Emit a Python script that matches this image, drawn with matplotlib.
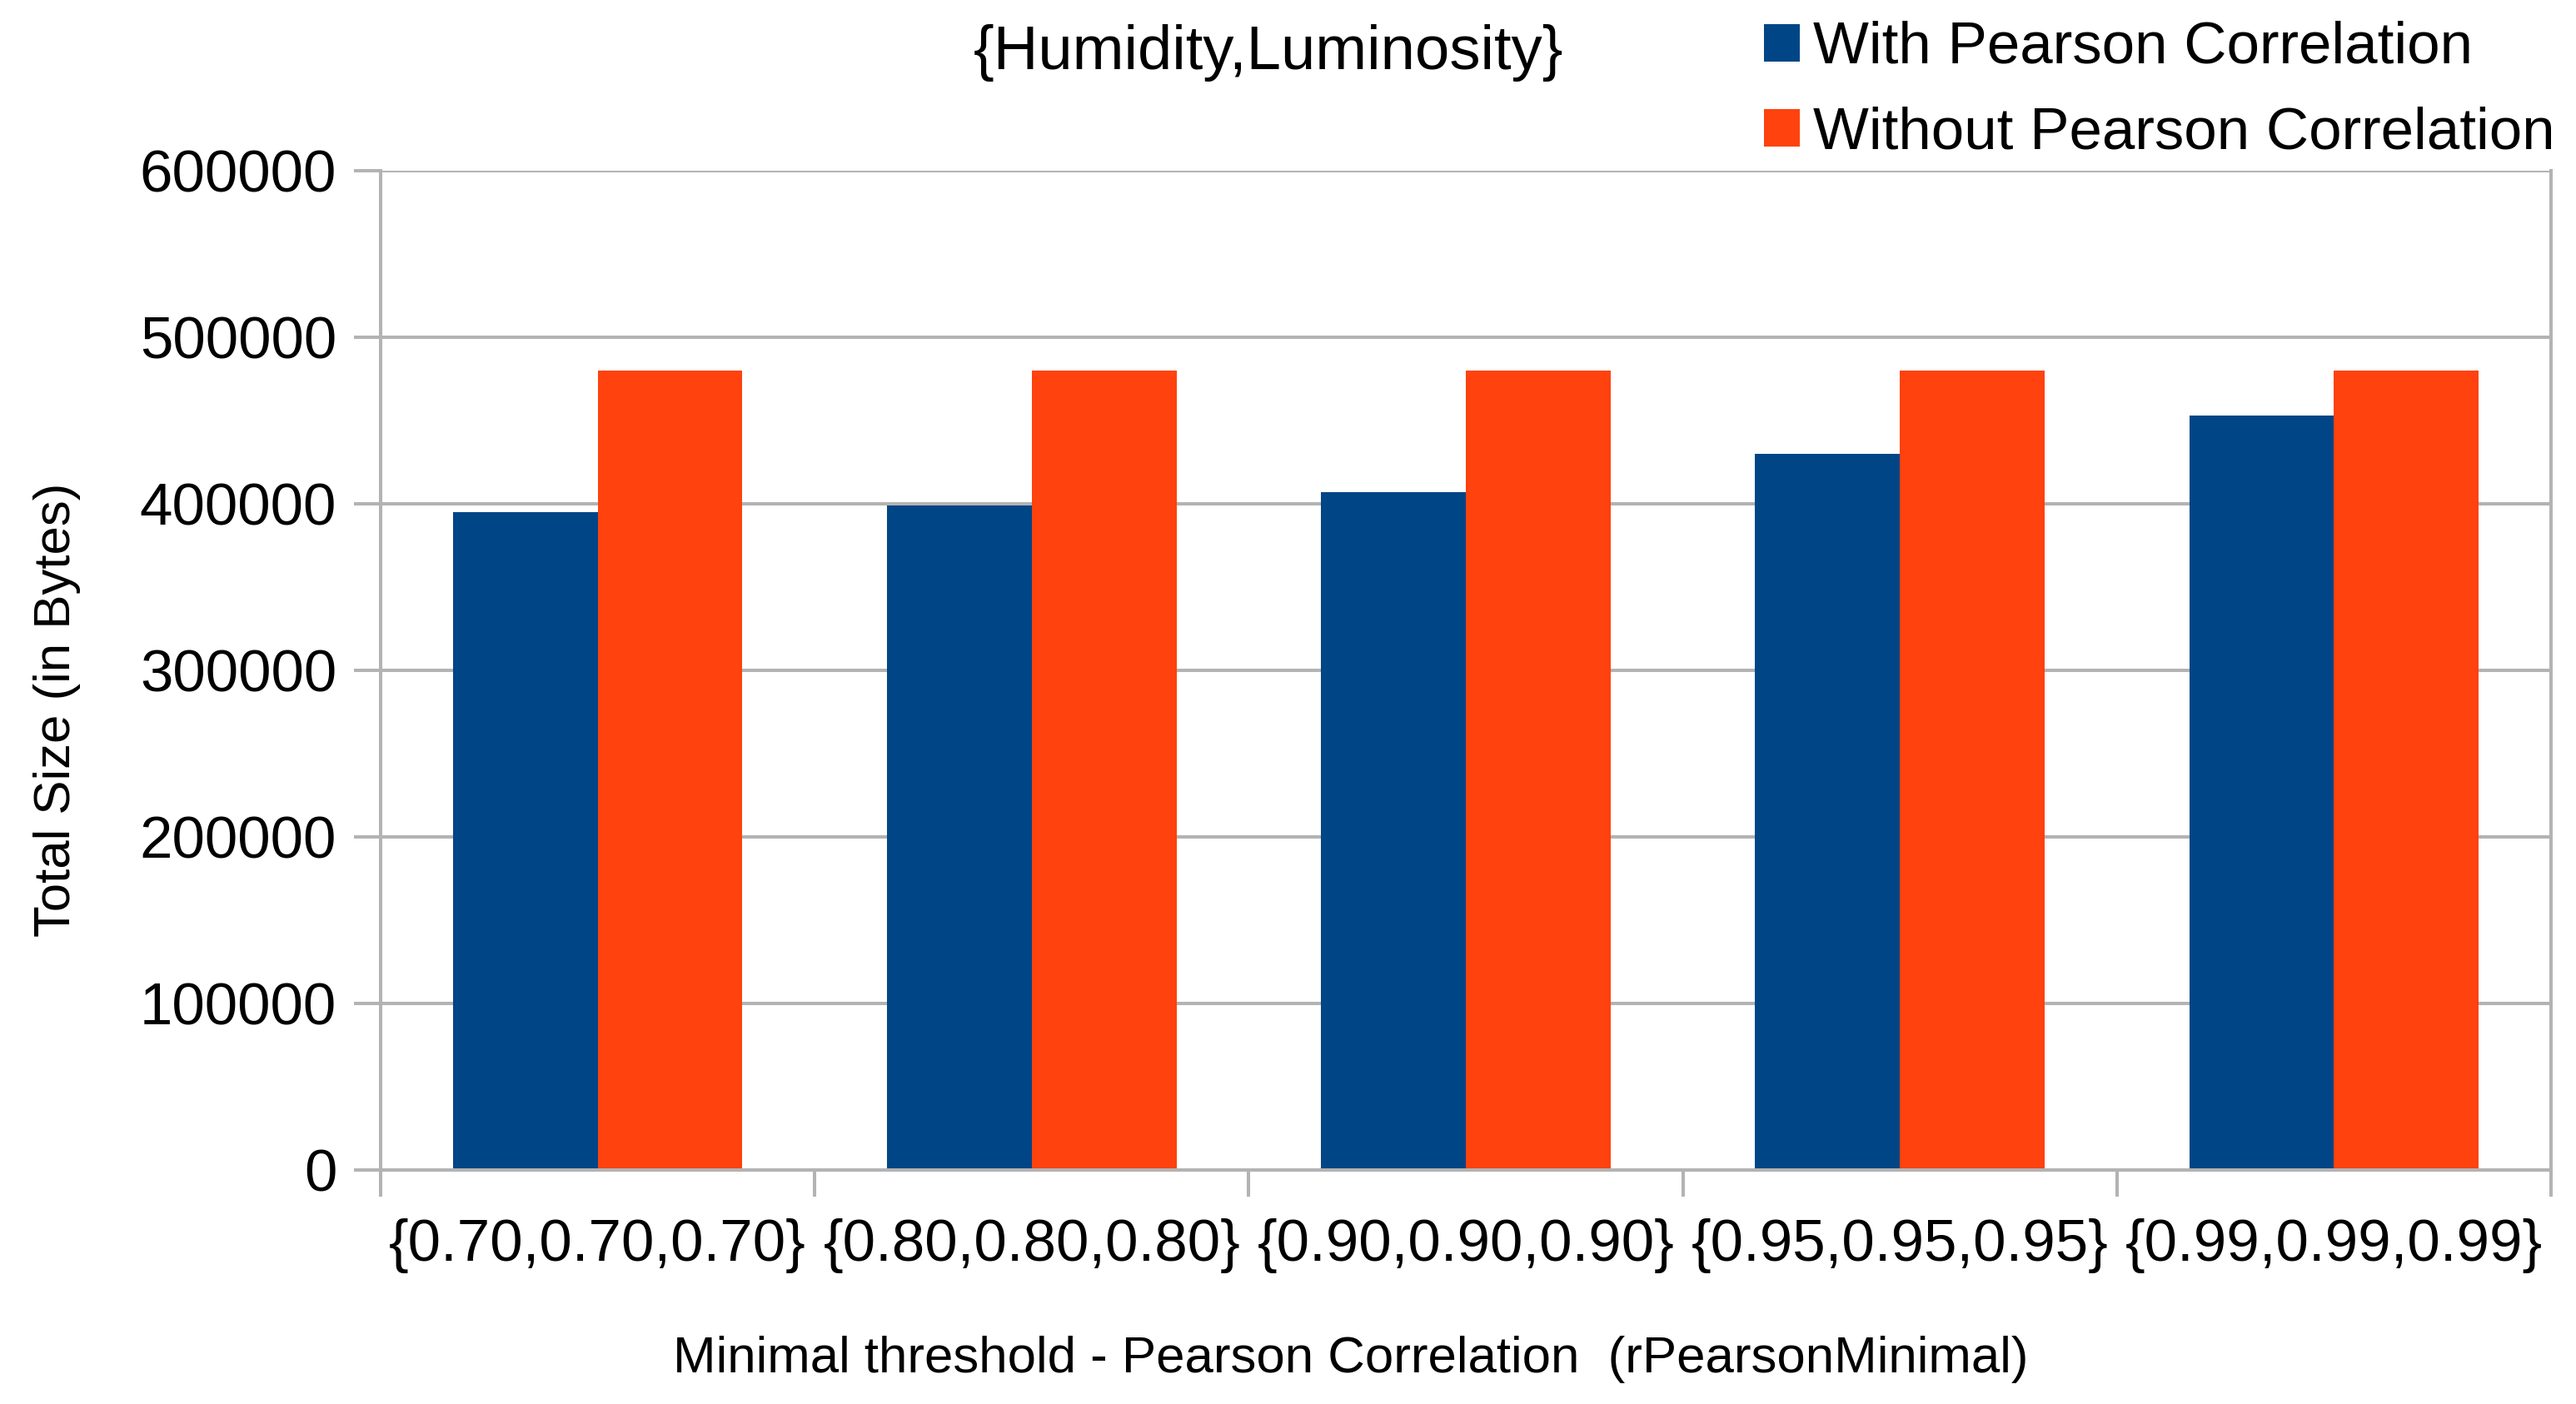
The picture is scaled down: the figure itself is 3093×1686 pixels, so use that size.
import matplotlib
matplotlib.use("Agg")
import matplotlib.pyplot as plt
from matplotlib.patches import Patch
import numpy as np

categories = ["{0.70,0.70,0.70}", "{0.80,0.80,0.80}", "{0.90,0.90,0.90}",
              "{0.95,0.95,0.95}", "{0.99,0.99,0.99}"]
with_pearson = [395000, 399000, 407000, 430000, 453000]
without_pearson = [480000, 480000, 480000, 480000, 480000]
series_names = ["With Pearson Correlation", "Without Pearson Correlation"]
yticks = [0, 100000, 200000, 300000, 400000, 500000, 600000]
title = "{Humidity,Luminosity}"
xlabel = "Minimal threshold - Pearson Correlation  (rPearsonMinimal)"
ylabel = "Total Size (in Bytes)"

BLUE = "#004586"
ORANGE = "#ff420e"
GRAY = "#b3b3b3"

plt.rcParams['font.family'] = ['Liberation Sans', 'DejaVu Sans']

W, H = 3093, 1686
fig = plt.figure(figsize=(W / 100, H / 100), dpi=100)
ax = fig.add_axes([457 / W, 1 - 1405 / H, (3063 - 457) / W, 1200 / H])

x = np.arange(len(categories))
bw = 1 / 3
ax.bar(x - bw / 2, with_pearson, width=bw, color=BLUE, linewidth=0, zorder=2)
ax.bar(x + bw / 2, without_pearson, width=bw, color=ORANGE, linewidth=0, zorder=2)

ax.set_xlim(-0.5, len(categories) - 0.5)
ax.set_ylim(0, 600000)

ax.set_yticks(yticks)
ax.set_yticklabels([str(v) for v in yticks])
ax.yaxis.grid(True, color=GRAY, linewidth=2.9, zorder=0)
ax.set_axisbelow(True)

ax.set_xticks(np.arange(-0.5, len(categories), 1))
ax.set_xticklabels([])
ax.set_xticks(x, minor=True)
ax.set_xticklabels(categories, minor=True)

ax.tick_params(axis='both', which='major', direction='out', length=23, width=2.9,
               color=GRAY, labelsize=51, labelcolor='black')
ax.tick_params(axis='y', which='major', pad=15)
ax.tick_params(axis='x', which='minor', length=0, pad=42, labelsize=51)

for side in ['left', 'right', 'bottom']:
    ax.spines[side].set_color(GRAY)
    ax.spines[side].set_linewidth(2.9)
    ax.spines[side].set_zorder(3)
ax.spines['top'].set_visible(False)

fig.text(1523 / W, 1 - 83 / H, title, ha='center', va='baseline', fontsize=53.5)
fig.text(1622 / W, 1 - 1648 / H, xlabel, ha='center', va='baseline', fontsize=44.5)
fig.text(84 / W, 1 - 852 / H, ylabel, ha='center', va='baseline', fontsize=44.5,
         rotation=90, rotation_mode='anchor')

handles = [Patch(facecolor=BLUE, edgecolor='none'), Patch(facecolor=ORANGE, edgecolor='none')]
fig.legend(handles, series_names, loc='upper left', bbox_to_anchor=(2118 / W, 1 - 25 / H),
           frameon=False, fontsize=51, handlelength=0.6, handleheight=0.6,
           handletextpad=0.23, labelspacing=0.51, borderpad=0, borderaxespad=0)

fig.savefig("out.png", dpi=100)
